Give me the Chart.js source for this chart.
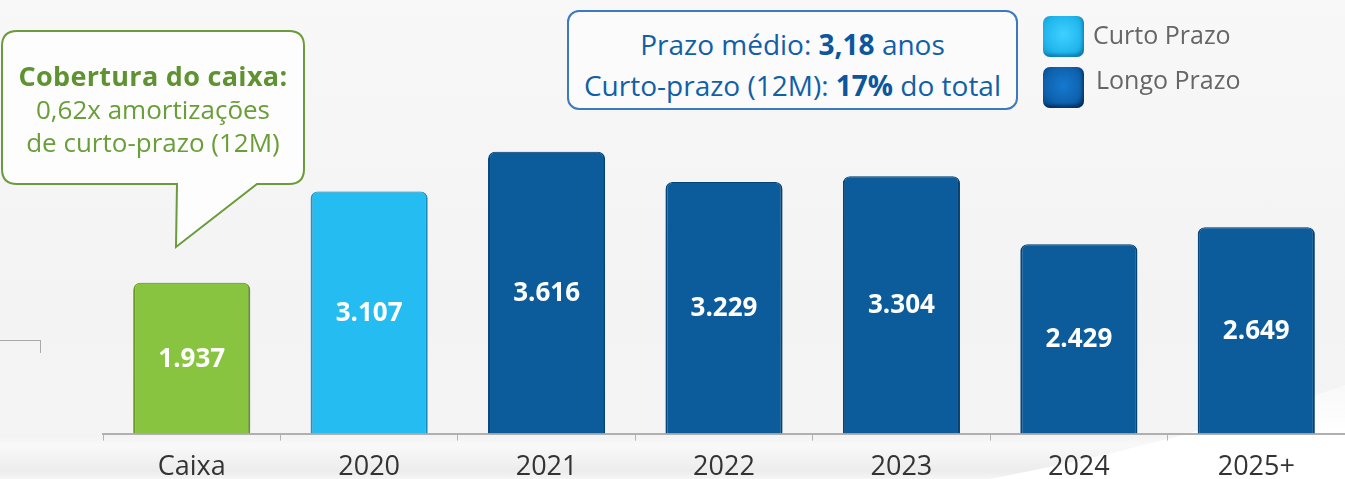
<!DOCTYPE html>
<html lang="pt">
<head>
  <meta charset="UTF-8" />
  <title>Cronograma de amortização</title>
  <style>
    html, body {
      margin: 0;
      padding: 0;
    }
    body {
      width: 1345px;
      height: 479px;
      overflow: hidden;
      position: relative;
      font-family: "Open Sans", "DejaVu Sans", sans-serif;
      background: linear-gradient(to bottom, #f8f8f8 0px, #f3f3f3 300px, #f4f4f4 437px, #f9f9f9 446px, #ececec 471px, #f6f6f6 479px);
    }
    #swoosh, #bubble, #chartBox {
      position: absolute;
      left: 0;
      top: 0;
    }
    .bracket {
      position: absolute;
      left: 0;
      top: 340px;
      width: 40px;
      height: 12px;
      border-top: 1px solid #a9a9a9;
      border-right: 1px solid #a9a9a9;
    }
    .bubble-text {
      position: absolute;
      left: 2px;
      top: 59px;
      width: 302px;
      text-align: center;
      color: #6a9e38;
      font-size: 26px;
      line-height: 33px;
    }
    .bubble-text b {
      color: #5f9230;
      font-size: 27px;
      letter-spacing: 0.3px;
    }
    .info {
      position: absolute;
      left: 567px;
      top: 10px;
      width: 447px;
      height: 96px;
      border: 2px solid #3b79c0;
      border-radius: 12px;
      background: #fbfbfb;
      color: #1060a8;
      font-size: 28px;
      line-height: 41px;
      text-align: center;
      white-space: nowrap;
    }
    .info div:first-child {
      margin-top: 12px;
    }
    .info b {
      color: #0b569d;
    }
    .legend {
      position: absolute;
      left: 1043px;
      color: #666;
      font-size: 25px;
    }
    .legend span.sw {
      position: absolute;
      left: 0;
      width: 41px;
      height: 41px;
      border-radius: 7px;
    }
    .legend span.tx {
      position: absolute;
      left: 50px;
      white-space: nowrap;
    }
  </style>
</head>
<body>

  <!-- fundo: curva branca no canto inferior direito -->
  <svg id="swoosh" width="1345" height="479">
    <defs>
      <linearGradient id="sw" x1="0" y1="0" x2="0" y2="1">
        <stop offset="0" stop-color="#ffffff" stop-opacity="0.4" />
        <stop offset="0.5" stop-color="#ffffff" stop-opacity="1" />
      </linearGradient>
    </defs>
    <path d="M 990 479 Q 1190 440 1345 385 L 1345 479 Z" fill="url(#sw)" />
  </svg>

  <div id="chartBox">
    <canvas id="debtChart" width="1345" height="495"></canvas>
  </div>

  <div class="bracket"></div>

  <!-- balão verde -->
  <svg id="bubble" width="320" height="260">
    <path d="M 17 31 L 289 31 Q 304 31 304 46 L 304 169 Q 304 184 289 184 L 257 184 L 176 247 L 177 184 L 17 184 Q 2 184 2 169 L 2 46 Q 2 31 17 31 Z"
          fill="#fdfdfd" stroke="#6b9b3a" stroke-width="2" />
  </svg>
  <div class="bubble-text">
    <b>Cobertura do caixa:</b><br />
    0,62x amortizações<br />
    de curto-prazo (12M)
  </div>

  <!-- caixa azul -->
  <div class="info">
    <div>Prazo médio: <b>3,18</b> anos</div>
    <div>Curto-prazo (12M): <b>17%</b> do total</div>
  </div>

  <!-- legenda -->
  <div class="legend" style="top:16px;">
    <span class="sw" style="background: radial-gradient(circle at 50% 45%, #3fd0ff 0%, #22b8ee 60%, #1193c9 100%); box-shadow: inset -2px -3px 3px rgba(0,60,110,0.35);"></span>
    <span class="tx" style="top:1px;">Curto Prazo</span>
  </div>
  <div class="legend" style="top:67px;">
    <span class="sw" style="background: radial-gradient(circle at 50% 45%, #1679cf 0%, #0e62ae 60%, #063f79 100%); box-shadow: inset -2px -3px 3px rgba(0,20,50,0.45);"></span>
    <span class="tx" style="top:-5px; left:53px;">Longo Prazo</span>
  </div>

  <script src="https://cdn.jsdelivr.net/npm/chart.js"></script>

  <script>
    // categorias e valores (R$ milhões)
    const categories = ['Caixa', '2020', '2021', '2022', '2023', '2024', '2025+'];
    const values = [1937, 3107, 3616, 3229, 3304, 2429, 2649];
    const kinds = ['caixa', 'curto', 'longo', 'longo', 'longo', 'longo', 'longo'];

    const fill = { caixa: '#88c43f', curto: '#25bcf1', longo: '#0c5c9c' };
    const edge = { caixa: '#6fa42c', curto: '#1a9fd3', longo: '#064a82' };

    // 1937 -> "1.937"
    const fmt = v => String(v).replace(/\B(?=(\d{3})+(?!\d))/g, '.');

    // sombra leve nas barras
    const barShadow = {
      id: 'barShadow',
      beforeDatasetsDraw(chart) {
        const ctx = chart.ctx;
        ctx.save();
        ctx.shadowColor = 'rgba(0,0,0,0.22)';
        ctx.shadowBlur = 4;
        ctx.shadowOffsetX = 1;
        ctx.shadowOffsetY = 0;
      },
      afterDatasetsDraw(chart) {
        chart.ctx.restore();
      }
    };

    // valores no meio das barras
    const barValues = {
      id: 'barValues',
      afterDatasetsDraw(chart) {
        const ctx = chart.ctx;
        const meta = chart.getDatasetMeta(0);
        ctx.save();
        ctx.font = 'bold 26px "Open Sans", "DejaVu Sans", sans-serif';
        ctx.fillStyle = '#ffffff';
        ctx.textAlign = 'center';
        ctx.textBaseline = 'middle';
        meta.data.forEach((bar, i) => {
          const mid = (bar.y + bar.base) / 2 + 1;
          ctx.fillText(fmt(values[i]), bar.x, mid);
        });
        ctx.restore();
      }
    };

    new Chart(document.getElementById('debtChart'), {
      type: 'bar',
      data: {
        labels: categories,
        datasets: [{
          data: values,
          backgroundColor: kinds.map(k => fill[k]),
          borderColor: kinds.map(k => edge[k]),
          borderWidth: { left: 2, right: 2, top: 1, bottom: 0 },
          borderSkipped: 'bottom',
          borderRadius: { topLeft: 7, topRight: 7, bottomLeft: 0, bottomRight: 0 },
          barPercentage: 0.66,
          categoryPercentage: 1
        }]
      },
      options: {
        responsive: false,
        animation: false,
        devicePixelRatio: 1,
        layout: { padding: { left: 103, right: 0, top: 5, bottom: 0 } },
        plugins: {
          legend: { display: false },
          tooltip: { enabled: false }
        },
        scales: {
          x: {
            offset: true,
            grid: {
              offset: true,
              drawOnChartArea: false,
              drawTicks: true,
              tickLength: 7,
              color: '#b4b4b4',
              lineWidth: 1
            },
            border: { display: true, color: '#b0b0b0', width: 2 },
            ticks: {
              color: '#333333',
              padding: 11,
              font: { family: '"Open Sans", "DejaVu Sans", sans-serif', size: 27 }
            }
          },
          y: {
            display: false,
            min: 0,
            max: 5500
          }
        }
      },
      plugins: [barShadow, barValues]
    });
  </script>
</body>
</html>
